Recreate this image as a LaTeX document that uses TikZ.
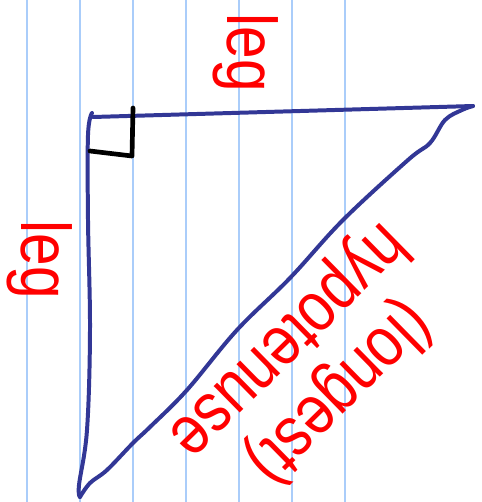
\documentclass[tikz,border=0pt]{standalone}
\usepackage{fontspec}
\setmainfont{Liberation Sans}
\usepackage{xcolor}
\definecolor{paperblue}{RGB}{170,205,250}
\definecolor{triblue}{RGB}{50,55,150}

\begin{document}
\begin{tikzpicture}[
    x=0.03cm,y=-0.03cm,
    ruling/.style={draw=paperblue,line width=1.5pt},
    side/.style={draw=triblue,line width=3.4pt,line cap=round,line join=round},
    rightangle/.style={draw=black,line width=4pt,line cap=round,line join=round},
    note/.style={text=red,yscale=1.2,font=\fontsize{50}{52}\selectfont,inner sep=0pt}
  ]
    \useasboundingbox (0,0) rectangle (482,502);
    \fill[white] (0,0) rectangle (482,502);
    % ruled paper
    \foreach \x in {27,80,...,346}
      \draw[ruling] (\x,0) -- (\x,502);
    % triangle
    \draw[side] (473,106) -- (93,117);
    \draw[side] plot[smooth,tension=0.6] coordinates {(92,113) (88,135) (88,220) (90,330) (87,430) (79,485) (80,497)};
    \draw[side] plot[smooth,tension=0.6] coordinates {(80,497) (90,483) (107,470) (133,443) (150,427) (187,390) (237,330) (290,278) (343,220) (408,160) (430,143) (445,120) (462,110) (473,106)};
    \draw[rightangle] (90,151) -- (132,156) -- (133,108);
    % labels
    \node[rotate=-90,note] (topleg) at (246,53) {leg};
    \node[rotate=-90,note] (sideleg) at (40,260) {leg};
    \node[rotate=-135.5,note,align=center] (hyp) at (313,366) {(longest)\\hypotenuse};
\end{tikzpicture}
\end{document}
